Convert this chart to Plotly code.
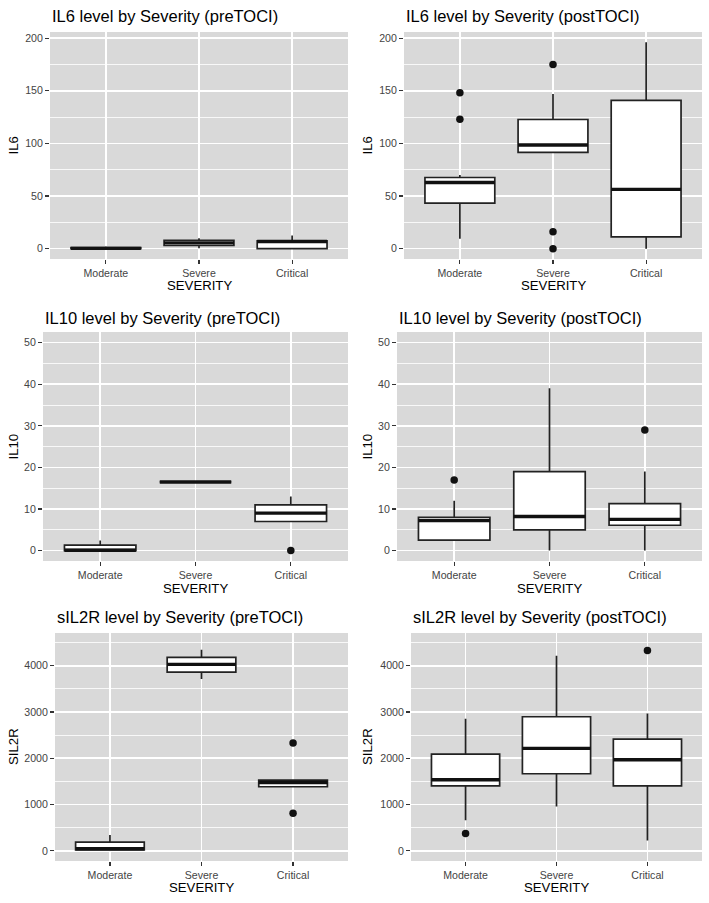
import plotly.graph_objects as go

W, H = 709, 903

categories = ["Moderate", "Severe", "Critical"]
cat_pos = [1, 2, 3]

# ---- IL6 preTOCI ----
il6_pre_q1 = [0, 3, 0]
il6_pre_med = [0.3, 5.5, 6.8]
il6_pre_q3 = [1, 8, 7.5]
il6_pre_lo = [0, 0.5, 0]
il6_pre_hi = [2, 10, 12.5]
il6_pre_out = [[], [], []]

# ---- IL6 postTOCI ----
il6_post_q1 = [43.2, 91.5, 11.3]
il6_post_med = [62.8, 98.5, 56.3]
il6_post_q3 = [67.6, 122.7, 140.8]
il6_post_lo = [9.4, 91.5, 0]
il6_post_hi = [70, 147, 196]
il6_post_out = [[148, 123], [175, 16, 0], []]

# ---- IL10 preTOCI ----
il10_pre_q1 = [0, 16.5, 7]
il10_pre_med = [0.1, 16.5, 9]
il10_pre_q3 = [1.3, 16.5, 11]
il10_pre_lo = [0, 16.5, 7]
il10_pre_hi = [2.4, 16.5, 13]
il10_pre_out = [[], [], [0]]

# ---- IL10 postTOCI ----
il10_post_q1 = [2.5, 5, 6.1]
il10_post_med = [7.2, 8.2, 7.5]
il10_post_q3 = [8, 19, 11.3]
il10_post_lo = [2.5, 0, 0]
il10_post_hi = [12, 39, 19]
il10_post_out = [[17], [], [29]]

# ---- sIL2R preTOCI ----
sil2r_pre_q1 = [20, 3863, 1384]
sil2r_pre_med = [45, 4029, 1477]
sil2r_pre_q3 = [190, 4180, 1528]
sil2r_pre_lo = [0, 3712, 1384]
sil2r_pre_hi = [340, 4346, 1528]
sil2r_pre_out = [[], [], [2330, 810]]

# ---- sIL2R postTOCI ----
sil2r_post_q1 = [1405, 1665, 1405]
sil2r_post_med = [1535, 2213, 1968]
sil2r_post_q3 = [2090, 2897, 2414]
sil2r_post_lo = [663, 959, 223]
sil2r_post_hi = [2854, 4216, 2969]
sil2r_post_out = [[375], [], [4330]]

titles = [
    "IL6 level by Severity (preTOCI)", "IL6 level by Severity (postTOCI)",
    "IL10 level by Severity (preTOCI)", "IL10 level by Severity (postTOCI)",
    "sIL2R level by Severity (preTOCI)", "sIL2R level by Severity (postTOCI)",
]
ytitles = ["IL6", "IL6", "IL10", "IL10", "SIL2R", "SIL2R"]

panels_data = [
    (il6_pre_q1, il6_pre_med, il6_pre_q3, il6_pre_lo, il6_pre_hi, il6_pre_out),
    (il6_post_q1, il6_post_med, il6_post_q3, il6_post_lo, il6_post_hi, il6_post_out),
    (il10_pre_q1, il10_pre_med, il10_pre_q3, il10_pre_lo, il10_pre_hi, il10_pre_out),
    (il10_post_q1, il10_post_med, il10_post_q3, il10_post_lo, il10_post_hi, il10_post_out),
    (sil2r_pre_q1, sil2r_pre_med, sil2r_pre_q3, sil2r_pre_lo, sil2r_pre_hi, sil2r_pre_out),
    (sil2r_post_q1, sil2r_post_med, sil2r_post_q3, sil2r_post_lo, sil2r_post_hi, sil2r_post_out),
]

# layout (pixel boxes of plot panels: x0, x1, y0(top), y1(bottom))
boxes = [
    (50, 348, 32, 259), (404, 702, 32, 259),
    (43, 348, 332, 561), (397, 702, 332, 561),
    (55, 348, 633, 861), (411, 702, 633, 861),
]
yranges = [(-9.8, 205.8), (-9.8, 205.8), (-2.5, 52.55), (-2.5, 52.55),
           (-220, 4707), (-220, 4707)]
ydticks = [50, 50, 10, 10, 1000, 1000]
title_y = [16, 16, 318, 318, 617, 617]
sev_y = [286, 286, 588, 588, 887, 887]
ytitle_x = [13, 367, 13, 367, 13, 367]

BOXW = 0.75
LINE = "#222222"
FONT = "Liberation Sans, Arial, Helvetica, sans-serif"

fig = go.Figure()
annotations = []
layout = {}

for k, ((q1, med, q3, lo, hi, out), box, yr, dt) in enumerate(zip(panels_data, boxes, yranges, ydticks)):
    n = k + 1
    xa = "x" if n == 1 else f"x{n}"
    ya = "y" if n == 1 else f"y{n}"
    fig.add_trace(go.Box(
        x=cat_pos, q1=q1, median=med, q3=q3, lowerfence=lo, upperfence=hi,
        width=BOXW, whiskerwidth=0, fillcolor="white",
        line=dict(color=LINE, width=1.7), boxpoints=False,
        xaxis=xa, yaxis=ya, showlegend=False, hoverinfo="skip",
    ))
    # thick median lines
    for p, m in zip(cat_pos, med):
        fig.add_trace(go.Scatter(
            x=[p - BOXW / 2, p + BOXW / 2], y=[m, m], mode="lines",
            line=dict(color="#111111", width=3.4), xaxis=xa, yaxis=ya,
            showlegend=False, hoverinfo="skip"))
    # outliers
    ox, oy = [], []
    for p, vals in zip(cat_pos, out):
        for v in vals:
            ox.append(p)
            oy.append(v)
    if ox:
        fig.add_trace(go.Scatter(
            x=ox, y=oy, mode="markers",
            marker=dict(color="#111111", size=7.5),
            xaxis=xa, yaxis=ya, showlegend=False, hoverinfo="skip"))

    x0, x1, y0, y1 = box
    xkey = "xaxis" if n == 1 else f"xaxis{n}"
    ykey = "yaxis" if n == 1 else f"yaxis{n}"
    layout[xkey] = dict(
        domain=[x0 / W, x1 / W], anchor=ya, range=[0.4, 3.6],
        tickvals=cat_pos, ticktext=categories, showgrid=True,
        gridcolor="white", gridwidth=1.6, zeroline=False, showline=False,
        ticks="outside", ticklen=4, tickwidth=1.2, tickcolor="#333333",
        tickfont=dict(family=FONT, size=10.6, color="#444444"), fixedrange=True,
    )
    layout[ykey] = dict(
        domain=[1 - y1 / H, 1 - y0 / H], anchor=xa, range=list(yr),
        dtick=dt, tick0=0, showgrid=True, gridcolor="white", gridwidth=1.6,
        zeroline=False, showline=False,
        ticks="outside", ticklen=4, tickwidth=1.2, tickcolor="#333333",
        tickfont=dict(family=FONT, size=10.6, color="#444444"),
        minor=dict(dtick=dt / 2, tick0=0, showgrid=True, gridcolor="white", gridwidth=0.8, ticks=""),
        fixedrange=True,
    )
    annotations.append(dict(
        text=titles[k], x=x0 / W, y=1 - title_y[k] / H, xref="paper", yref="paper",
        xanchor="left", yanchor="middle", showarrow=False,
        font=dict(family=FONT, size=16.5, color="black")))
    annotations.append(dict(
        text="SEVERITY", x=(x0 + x1) / 2 / W, y=1 - sev_y[k] / H, xref="paper", yref="paper",
        xanchor="center", yanchor="middle", showarrow=False,
        font=dict(family=FONT, size=13.2, color="black")))
    annotations.append(dict(
        text=ytitles[k], x=ytitle_x[k] / W, y=1 - (y0 + y1) / 2 / H, xref="paper", yref="paper",
        xanchor="center", yanchor="middle", showarrow=False, textangle=-90,
        font=dict(family=FONT, size=13.2, color="black")))

fig.update_layout(
    width=W, height=H, margin=dict(l=0, r=0, t=0, b=0),
    paper_bgcolor="white", plot_bgcolor="#d9d9d9",
    showlegend=False, annotations=annotations, **layout,
)

fig.write_html(
    "out.html",
    config={"displayModeBar": False, "staticPlot": True},
    post_script="document.body.style.margin='0';document.body.style.overflow='hidden';",
)
